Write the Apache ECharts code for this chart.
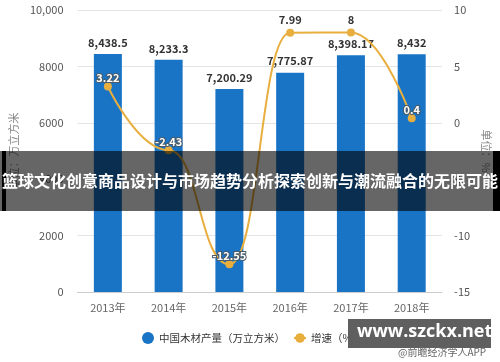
<!DOCTYPE html>
<html>
<head>
<meta charset="utf-8">
<script src="https://cdn.jsdelivr.net/npm/echarts@6/dist/echarts.min.js"></script>
<style>html,body{margin:0;padding:0;background:#fff;}#c{width:500px;height:362px;}</style>
</head>
<body>
<div id="c"></div>
<script>
const categories = ['2013年', '2014年', '2015年', '2016年', '2017年', '2018年'];
const outputValues = [8438.5, 8233.3, 7200.29, 7775.87, 8398.17, 8432];
const growthValues = [3.22, -2.43, -12.55, 7.99, 8, 0.4];
const barName = '中国木材产量（万立方米）';
const lineName = '增速（%）';
const titleText = '篮球文化创意商品设计与市场趋势分析探索创新与潮流融合的无限可能';
const watermarkText = 'www.szckx.net';
const sourceText = '@前瞻经济学人APP';

const FONT = '"Noto Sans CJK SC", "Noto Sans", sans-serif';
const chart = echarts.init(document.getElementById('c'));
const fmt = v => v.toLocaleString('en-US', {maximumFractionDigits: 2});

// labels above bars (white background area) are drawn dark, others white with outline
const darkLabelIdx = [3, 4];
const lineData = growthValues.map((v, i) => darkLabelIdx.includes(i)
  ? {value: v, label: {color: '#333', textBorderWidth: 0, distance: 3}}
  : v);

chart.setOption({
  animation: false,
  textStyle: {fontFamily: FONT},
  grid: {left: 73, right: 57, top: 10, bottom: 70},
  legend: {
    left: 137, top: 327, itemGap: 8, itemWidth: 12, itemHeight: 12,
    textStyle: {color: '#333', fontSize: 10.5, fontFamily: FONT},
    data: [{name: barName, icon: 'circle'}, {name: lineName}]
  },
  xAxis: {
    type: 'category', data: categories,
    axisLine: {lineStyle: {color: '#ccc'}},
    axisTick: {show: false},
    axisLabel: {color: '#666', fontSize: 11, margin: 10}
  },
  yAxis: [
    {
      type: 'value', min: 0, max: 10000, interval: 2000,
      name: '单位：万立方米', nameLocation: 'middle', nameGap: 52, nameRotate: 90,
      nameTextStyle: {color: '#888', fontSize: 11},
      axisLine: {show: false}, axisTick: {show: false},
      axisLabel: {color: '#555', fontSize: 11, margin: 14,
        formatter: v => v >= 10000 ? '10,000' : String(v)},
      splitLine: {lineStyle: {color: '#e3e3e3'}}
    },
    {
      type: 'value', min: -15, max: 10, interval: 5,
      name: '单位：%', nameLocation: 'middle', nameGap: 32, nameRotate: -90,
      nameTextStyle: {color: '#888', fontSize: 11},
      axisLine: {show: false}, axisTick: {show: false},
      axisLabel: {color: '#555', fontSize: 11, margin: 12},
      splitLine: {show: false}
    }
  ],
  series: [
    {
      name: barName, type: 'bar', data: outputValues, barWidth: 28,
      itemStyle: {color: '#1a74c6'},
      label: {show: true, position: 'top', color: '#333', fontWeight: 'bold',
        fontSize: 11, distance: 6, formatter: p => fmt(p.value)}
    },
    {
      name: lineName, type: 'line', yAxisIndex: 1, data: lineData,
      smooth: 0.5, smoothMonotone: 'x', symbol: 'circle', symbolSize: 8,
      itemStyle: {color: '#e8ae3e'},
      lineStyle: {color: '#e8ae3e', width: 2},
      label: {show: true, position: 'top', color: '#fff', fontWeight: 'bold',
        fontSize: 11, textBorderColor: '#4a5a66', textBorderWidth: 2, distance: -1},
      z: 5
    }
  ],
  graphic: [
    {type: 'rect', left: 0, top: 151, z: 100,
      shape: {width: 500, height: 60}, style: {fill: 'rgba(0,0,0,0.6)'}},
    {type: 'rect', left: 2, top: 151, z: 101,
      shape: {width: 4, height: 60}, style: {fill: '#000'}},
    {type: 'rect', left: 493, top: 151, z: 101,
      shape: {width: 7, height: 60}, style: {fill: '#000'}},
    {type: 'text', left: 2, top: 173, z: 102,
      style: {text: titleText, fill: '#fff', font: 'bold 16px ' + FONT}},
    {type: 'rect', left: 348, top: 319, z: 100,
      shape: {width: 143, height: 29}, style: {fill: '#5f5f5f'}},
    {type: 'text', left: 357, top: 323, z: 101,
      style: {text: watermarkText, fill: '#fff', font: 'bold 18px "Open Sans", "DejaVu Sans", sans-serif'}},
    {type: 'text', left: 398, top: 347, z: 120,
      style: {text: sourceText, fill: '#666', font: '10px ' + FONT}}
  ]
});
</script>
</body>
</html>
